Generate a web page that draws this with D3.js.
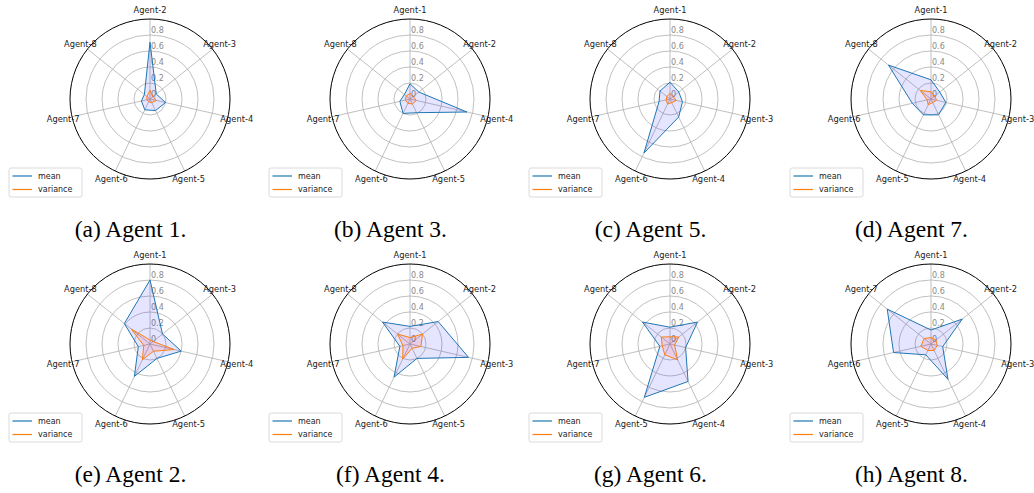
<!DOCTYPE html>
<html>
<head>
<meta charset="utf-8">
<script src="https://cdn.jsdelivr.net/npm/d3@7"></script>
<style>
  html, body { margin: 0; padding: 0; background: #fff; }
  svg { display: block; }
</style>
</head>
<body>
<svg id="chart" width="1034" height="493"></svg>
<script>
// ---------- data ----------
const captions = ["(a) Agent 1.", "(b) Agent 3.", "(c) Agent 5.", "(d) Agent 7.",
                  "(e) Agent 2.", "(f) Agent 4.", "(g) Agent 6.", "(h) Agent 8."];
const focalAgents = [1, 3, 5, 7, 2, 4, 6, 8];
const allAgents = [1, 2, 3, 4, 5, 6, 7, 8];
const radialTicks = [0, 0.2, 0.4, 0.6, 0.8];
const radialTickLabels = ["0", "0.2", "0.4", "0.6", "0.8"];
const seriesNames = ["mean", "variance"];

const meanA = [0.71, 0.10, 0.20, 0.16, 0.15, 0.11, 0.09];
const meanB = [0.19, 0.14, 0.73, 0.19, 0.20, 0.13, 0.09];
const meanC = [0.21, 0.14, 0.16, 0.25, 0.75, 0.14, 0.16];
const meanD = [0.24, 0.14, 0.19, 0.22, 0.22, 0.24, 0.68];
const meanE = [0.80, 0.20, 0.40, 0.20, 0.45, 0.15, 0.41];
const meanF = [0.22, 0.45, 0.75, 0.20, 0.46, 0.13, 0.44];
const meanG = [0.21, 0.44, 0.20, 0.52, 0.74, 0.13, 0.44];
const meanH = [0.175, 0.50, 0.15, 0.49, 0.15, 0.48, 0.70];

const varA = [0.11, 0.05, 0.08, 0.05, 0.04, 0.04, 0.05];
const varB = [0.07, 0.05, 0.08, 0.07, 0.06, 0.06, 0.06];
const varC = [0.07, 0.05, 0.08, 0.05, 0.07, 0.05, 0.05];
const varD = [0.09, 0.06, 0.07, 0.05, 0.08, 0.05, 0.17];
const varE = [0.05, 0.05, 0.31, 0.10, 0.22, 0.08, 0.30];
const varF = [0.08, 0.20, 0.14, 0.06, 0.21, 0.09, 0.20];
const varG = [0.09, 0.14, 0.06, 0.22, 0.15, 0.10, 0.14];
const varH = [0.08, 0.08, 0.08, 0.09, 0.09, 0.13, 0.11];

const meanSeries = [meanA, meanB, meanC, meanD, meanE, meanF, meanG, meanH];
const varSeries = [varA, varB, varC, varD, varE, varF, varG, varH];

// ---------- layout ----------
const svg = d3.select("#chart");
const R = 80;
const centersX = [150, 410, 670, 931];
const centersY = [99, 344];
const rScale = d3.scaleLinear().domain([0, 1]).range([0, R]);
const nAxes = 7;
const angle = i => i * 2 * Math.PI / nAxes;
const colMean = "#1f77b4", colVar = "#ff7f0e";
const sans = "DejaVu Sans, sans-serif";

const radial = d3.lineRadial()
  .angle((d, i) => angle(i))
  .radius(d => rScale(d))
  .curve(d3.curveLinearClosed);

focalAgents.forEach((agent, p) => {
  const cx = centersX[p % 4], cy = centersY[Math.floor(p / 4)];
  const labels = allAgents.filter(a => a !== agent).map(a => "Agent-" + a);
  const g = svg.append("g").attr("transform", `translate(${cx},${cy})`);

  // grid circles
  g.selectAll("circle.grid").data(radialTicks.filter(t => t > 0)).join("circle")
    .attr("r", d => rScale(d)).attr("fill", "none")
    .attr("stroke", "#b0b0b0").attr("stroke-width", 0.8);

  // spokes
  labels.forEach((lab, i) => {
    const a = angle(i);
    g.append("line")
      .attr("x1", 0).attr("y1", 0)
      .attr("x2", rScale(1) * Math.sin(a)).attr("y2", -rScale(1) * Math.cos(a))
      .attr("stroke", "#b0b0b0").attr("stroke-width", 0.8);
  });

  // radial tick labels
  radialTicks.forEach((t, i) => {
    g.append("text")
      .attr("x", 1).attr("y", -rScale(t) - 2)
      .attr("font-family", sans).attr("font-size", 8)
      .attr("fill", "#8a8a8a")
      .text(radialTickLabels[i]);
  });

  // outer circle
  g.append("circle").attr("r", rScale(1)).attr("fill", "none")
    .attr("stroke", "#000").attr("stroke-width", 1);

  // axis labels
  labels.forEach((lab, i) => {
    const a = angle(i), rr = rScale(1) + 9;
    g.append("text")
      .attr("x", rr * Math.sin(a)).attr("y", -rr * Math.cos(a))
      .attr("text-anchor", "middle").attr("dominant-baseline", "central")
      .attr("font-family", sans).attr("font-size", 8.3).attr("fill", "#222")
      .text(lab);
  });

  // series
  const mv = meanSeries[p], vv = varSeries[p];
  g.append("path").attr("d", radial(mv)).attr("fill", "rgba(0,0,255,0.1)").attr("stroke", "none");
  g.append("path").attr("d", radial(mv)).attr("fill", "none").attr("stroke", colMean).attr("stroke-width", 1);
  g.append("path").attr("d", radial(vv)).attr("fill", "rgba(255,0,0,0.1)").attr("stroke", "none");
  g.append("path").attr("d", radial(vv)).attr("fill", "none").attr("stroke", colVar).attr("stroke-width", 1);

  // legend
  const lx = cx - 141, ly = cy + 69;
  const lg = svg.append("g").attr("transform", `translate(${lx},${ly})`);
  lg.append("rect").attr("x", 0).attr("y", 0).attr("width", 73).attr("height", 29)
    .attr("rx", 2).attr("fill", "#fff").attr("stroke", "#d0d0d0").attr("stroke-width", 0.8);
  [colMean, colVar].forEach((c, i) => {
    const yy = 8 + i * 13.5;
    lg.append("line").attr("x1", 3.5).attr("x2", 23).attr("y1", yy).attr("y2", yy)
      .attr("stroke", c).attr("stroke-width", 1.2);
    lg.append("text").attr("x", 29).attr("y", yy).attr("dominant-baseline", "central")
      .attr("font-family", sans).attr("font-size", 8).attr("fill", "#222")
      .text(seriesNames[i]);
  });

  // caption
  svg.append("text")
    .attr("x", cx - 19.5).attr("y", cy + 138)
    .attr("text-anchor", "middle")
    .attr("font-family", "Liberation Serif, Times New Roman, serif")
    .attr("font-size", 23.5).attr("fill", "#000")
    .text(captions[p]);
});
</script>
</body>
</html>
